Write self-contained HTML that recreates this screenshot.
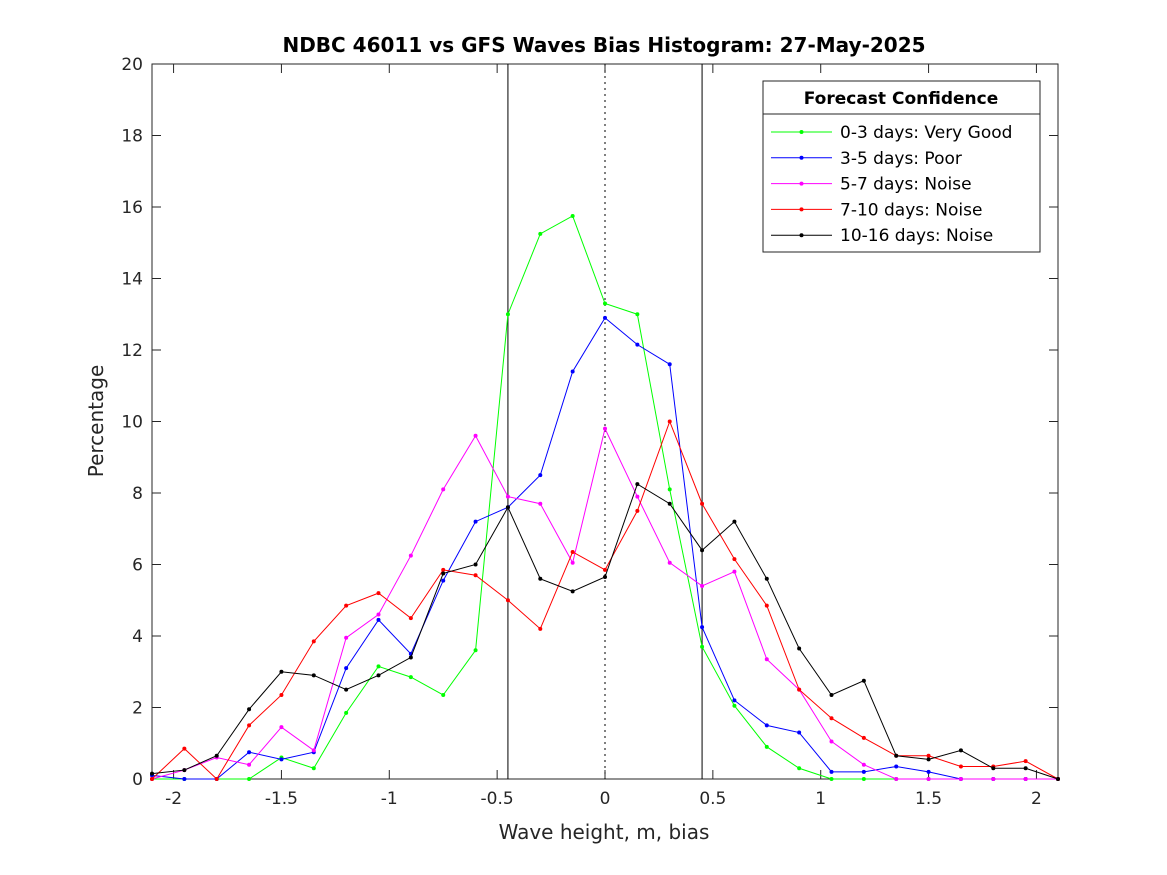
<!DOCTYPE html>
<html><head><meta charset="utf-8"><style>
body{margin:0;background:#fff}
svg{display:block;font-family:"DejaVu Sans","Liberation Sans",sans-serif}
</style></head><body>
<svg id="chart" width="1167" height="875">
<rect width="1167" height="875" fill="#fff"/>
<text x="604" y="52" text-anchor="middle" font-size="20" font-weight="bold" fill="#000">NDBC 46011 vs GFS Waves Bias Histogram: 27-May-2025</text>
<text x="604" y="839" text-anchor="middle" font-size="20" fill="#262626">Wave height, m, bias</text>
<text transform="translate(103,421) rotate(-90)" text-anchor="middle" font-size="20" fill="#262626">Percentage</text>
<g id="axes"></g>
<g id="series"></g>
<g id="legend"></g>
</svg>
<script>
const xCenters=[-2.1,-1.95,-1.8,-1.65,-1.5,-1.35,-1.2,-1.05,-0.9,-0.75,-0.6,-0.45,-0.3,-0.15,0,0.15,0.3,0.45,0.6,0.75,0.9,1.05,1.2,1.35,1.5,1.65,1.8,1.95,2.1];
const green=[0,0,0,0,0.6,0.3,1.85,3.15,2.85,2.35,3.6,13,15.25,15.75,13.3,13,8.1,3.7,2.05,0.9,0.3,0,0,0,0,0,0,0,0];
const blue=[0.1,0,0,0.75,0.55,0.75,3.1,4.45,3.5,5.55,7.2,7.6,8.5,11.4,12.9,12.15,11.6,4.25,2.2,1.5,1.3,0.2,0.2,0.35,0.2,0,0,0,0];
const magenta=[0,0.25,0.6,0.4,1.45,0.8,3.95,4.6,6.25,8.1,9.6,7.9,7.7,6.05,9.8,7.9,6.05,5.4,5.8,3.35,2.5,1.05,0.4,0,0,0,0,0,0];
const red=[0,0.85,0,1.5,2.35,3.85,4.85,5.2,4.5,5.85,5.7,5.0,4.2,6.35,5.85,7.5,10,7.7,6.15,4.85,2.5,1.7,1.15,0.65,0.65,0.35,0.35,0.5,0];
const black=[0.15,0.25,0.65,1.95,3.0,2.9,2.5,2.9,3.4,5.75,6.0,7.6,5.6,5.25,5.65,8.25,7.7,6.4,7.2,5.6,3.65,2.35,2.75,0.65,0.55,0.8,0.3,0.3,0];
const xTicks=[-2,-1.5,-1,-0.5,0,0.5,1,1.5,2];
const yTicks=[0,2,4,6,8,10,12,14,16,18,20];
const seriesNames=["0-3 days: Very Good","3-5 days: Poor","5-7 days: Noise","7-10 days: Noise","10-16 days: Noise"];
const seriesColors=["#00ff00","#0000ff","#ff00ff","#ff0000","#000000"];
const seriesData=[green,blue,magenta,red,black];
const boundaryLines=[-0.45,0.45];

const NS="http://www.w3.org/2000/svg";
const L=152,R=1058,T=64,B=779,xMin=-2.1,xMax=2.1,yMin=0,yMax=20;
const sx=v=>L+(v-xMin)/(xMax-xMin)*(R-L);
const sy=v=>B-(v-yMin)/(yMax-yMin)*(B-T);
function mk(tag,attrs,parent){const e=document.createElementNS(NS,tag);for(const k in attrs)e.setAttribute(k,attrs[k]);parent.appendChild(e);return e;}
const axes=document.getElementById('axes');
const frame=mk('rect',{x:L,y:T,width:R-L,height:B-T,fill:'none',stroke:'#262626','stroke-width':1},axes);


xTicks.forEach(t=>{
  const x=sx(t);
  mk('line',{x1:x,x2:x,y1:B,y2:B-9,stroke:'#262626'},axes);
  mk('line',{x1:x,x2:x,y1:T,y2:T+9,stroke:'#262626'},axes);
  const tx=mk('text',{x:x,y:B+25,'text-anchor':'middle','font-size':17,fill:'#262626'},axes);
  tx.textContent=String(t);
  
  
});
yTicks.forEach(t=>{
  const y=sy(t);
  mk('line',{x1:L,x2:L+9,y1:y,y2:y,stroke:'#262626'},axes);
  mk('line',{x1:R,x2:R-9,y1:y,y2:y,stroke:'#262626'},axes);
  const tx=mk('text',{x:L-9,y:y+6,'text-anchor':'end','font-size':17,fill:'#262626'},axes);
  tx.textContent=String(t);
  
  
});
boundaryLines.forEach(b=>{
  const ln=mk('line',{x1:sx(b),x2:sx(b),y1:T,y2:B,stroke:'#000','stroke-width':1},axes);
  
  
});
const zl=mk('line',{x1:sx(0),x2:sx(0),y1:T,y2:B,stroke:'#000','stroke-dasharray':'2,4'},axes);



const sg=document.getElementById('series');
seriesData.forEach((d,i)=>{
  const g=mk('g',{},sg);
  
  
  const pl=mk('polyline',{points:d.map((v,j)=>sx(xCenters[j])+','+sy(v)).join(' '),fill:'none',stroke:seriesColors[i],'stroke-width':1},g);
  
  
  d.forEach((v,j)=>{
    const c=mk('circle',{cx:sx(xCenters[j]),cy:sy(v),r:2,fill:seriesColors[i]},g);
    
    
  });
});

const lg=document.getElementById('legend');


mk('rect',{x:763,y:81,width:277,height:171,fill:'#fff',stroke:'#262626'},lg);
mk('line',{x1:763,x2:1040,y1:114,y2:114,stroke:'#262626'},lg);
const lt=mk('text',{x:901,y:104,'text-anchor':'middle','font-size':17,'font-weight':'bold',fill:'#000'},lg);
lt.textContent='Forecast Confidence';


seriesNames.forEach((n,i)=>{
  const y=132+i*25.8;
  const e=mk('g',{},lg);
  
  
  mk('line',{x1:771,x2:832,y1:y,y2:y,stroke:seriesColors[i]},e);
  mk('circle',{cx:801.5,cy:y,r:2,fill:seriesColors[i]},e);
  const t=mk('text',{x:840,y:y+6,'font-size':17,fill:'#000'},e);
  t.textContent=n;
});
</script>
</body></html>
